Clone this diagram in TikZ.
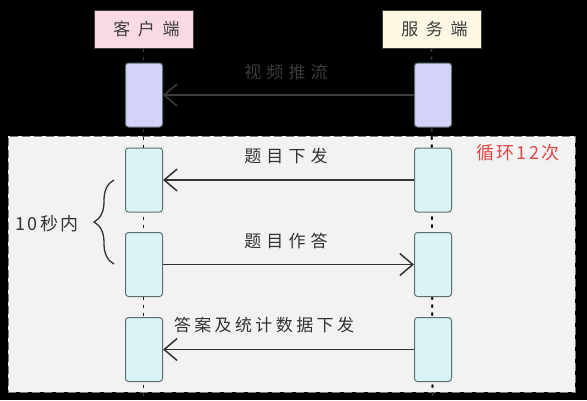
\documentclass[tikz,border=0pt]{standalone}
\usepackage{fontspec}
\setmainfont{Noto Sans CJK SC}
\newfontfamily\cjksp[LetterSpace=30]{Noto Sans CJK SC}
\newfontfamily\cjkhd[LetterSpace=45]{Noto Sans CJK SC}
\newfontfamily\cjkst[LetterSpace=12]{Noto Sans CJK SC}
\newfontfamily\cjkmd[LetterSpace=20]{Noto Sans CJK SC}
\usetikzlibrary{arrows.meta,decorations.pathreplacing}
\definecolor{bgblack}{HTML}{000000}
\definecolor{framefill}{HTML}{F2F2F2}
\definecolor{framedraw}{HTML}{7A7A7A}
\definecolor{pinkfill}{HTML}{F9D9E4}
\definecolor{creamfill}{HTML}{FDF8E4}
\definecolor{lavfill}{HTML}{D3D3FA}
\definecolor{cyanfill}{HTML}{DAF3F5}
\definecolor{boxdraw}{HTML}{5E6E70}
\definecolor{darkgrey}{HTML}{3C3C3C}
\definecolor{arrowcol}{HTML}{333333}
\definecolor{loopred}{HTML}{E04848}
\tikzset{
  header/.style={draw=darkgrey, line width=1pt, minimum width=99pt, minimum height=38pt, inner sep=0pt, font=\cjkhd\fontsize{17}{20}\selectfont, text=darkgrey},
  actbox/.style={draw=boxdraw, line width=1pt, rounded corners=3pt, minimum width=37pt, minimum height=64pt, inner sep=0pt},
  lifeline/.style={line width=1.6pt, dash pattern=on 3pt off 5pt},
  msg/.style={line width=1.5pt, draw=arrowcol, -{Straight Barb[length=13pt,width=22pt,line width=1.5pt]}},
  msglabel/.style={font=\cjksp\fontsize{17}{20}\selectfont, text=arrowcol, inner sep=0pt},
}
\begin{document}
\begin{tikzpicture}[x=1pt,y=-1pt]
\path[fill=bgblack, use as bounding box] (0,0) rectangle (587,400);
% loop frame
\node[draw=framedraw, fill=framefill, line width=1pt, dash pattern=on 8pt off 4pt, minimum width=567pt, minimum height=256pt, inner sep=0pt] (loop) at (291.5,264) {};
% header nodes
\node[header, fill=pinkfill] (hc) at (143.5,29) {\hspace{6pt}客户端};
\node[header, fill=creamfill] (hs) at (431.5,29) {\hspace{6pt}服务端};
\coordinate (bc) at (143.5,400);
\coordinate (bs) at (432.5,400);
% lifelines
\draw[lifeline, draw=darkgrey] (hc.south) -- (bc);
\draw[lifeline, draw=darkgrey] (hs.south) -- (bs);
\begin{scope}
\clip (loop.north west) rectangle (loop.south east);
\draw[lifeline, draw=black] (hc.south) -- (bc);
\draw[lifeline, draw=black] (hs.south) -- (bs);
\end{scope}
% activation boxes
\node[actbox, fill=lavfill] (c1) at (144,95) {};
\node[actbox, fill=lavfill] (s1) at (433,95) {};
\node[actbox, fill=cyanfill] (c2) at (144,180) {};
\node[actbox, fill=cyanfill] (s2) at (433,180) {};
\node[actbox, fill=cyanfill] (c3) at (144,264.5) {};
\node[actbox, fill=cyanfill] (s3) at (433,264.5) {};
\node[actbox, fill=cyanfill] (c4) at (144,349.5) {};
\node[actbox, fill=cyanfill] (s4) at (433,349.5) {};
% messages
\draw[msg, draw=darkgrey] (s1.west) -- (c1.east);
\draw[msg] (s2.west) -- (c2.east);
\draw[msg] (c3.east) -- (s3.west);
\draw[msg] (s4.west) -- (c4.east);
% labels
\node[msglabel, text=darkgrey] (l1) at (286,72) {视频推流};
\node[msglabel] (l2) at (286,156) {题目下发};
\node[msglabel] (l3) at (286,241) {题目作答};
\node[msglabel, font=\cjkmd\fontsize{17}{20}\selectfont] (l4) at (264,325) {答案及统计数据下发};
\node[font=\cjkst\fontsize{18}{21}\selectfont, text=loopred, inner sep=0pt] (looplabel) at (518,153) {循环12次};
% brace
\draw[line width=1.3pt, draw=arrowcol, decorate, decoration={brace, amplitude=20pt}] (114,264) -- (114,180);
\node[font=\cjkst\fontsize{18}{21}\selectfont, text=arrowcol, inner sep=0pt] (tenlabel) at (47,224) {10秒内};
\end{tikzpicture}
\end{document}
